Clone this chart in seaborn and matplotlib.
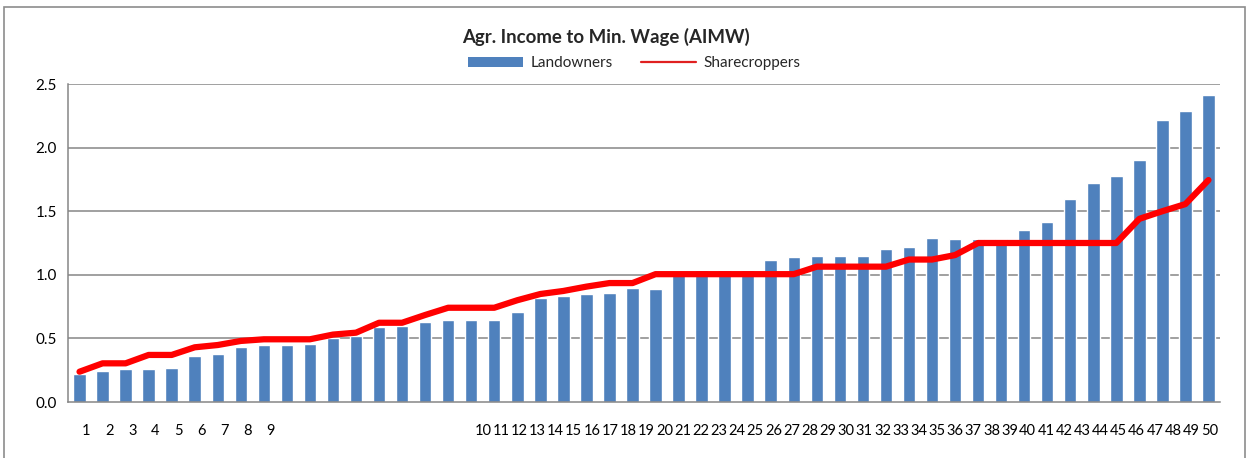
import numpy as np
import pandas as pd
import matplotlib
matplotlib.use("Agg")
import matplotlib.pyplot as plt
from matplotlib.patches import Rectangle, Patch
from matplotlib.lines import Line2D
import seaborn as sns

# ---- data ----
categories = list(range(1, 51))
landowners = [0.22, 0.246, 0.257, 0.257, 0.27, 0.364, 0.377, 0.435, 0.446, 0.448,
              0.456, 0.50, 0.519, 0.587, 0.597, 0.63, 0.645, 0.645, 0.645, 0.71,
              0.815, 0.833, 0.847, 0.854, 0.894, 0.89, 1.0, 1.038, 1.038, 1.038,
              1.116, 1.14, 1.148, 1.145, 1.15, 1.20, 1.216, 1.29, 1.28, 1.28,
              1.28, 1.35, 1.415, 1.596, 1.72, 1.78, 1.90, 2.22, 2.29, 2.41]
sharecroppers = [0.238, 0.304, 0.304, 0.37, 0.37, 0.43, 0.448, 0.48, 0.493, 0.493,
                 0.493, 0.53, 0.545, 0.623, 0.623, 0.684, 0.741, 0.741, 0.741, 0.80,
                 0.849, 0.873, 0.907, 0.935, 0.935, 1.005, 1.005, 1.005, 1.005, 1.005,
                 1.005, 1.005, 1.064, 1.064, 1.064, 1.064, 1.12, 1.12, 1.155, 1.25,
                 1.25, 1.25, 1.25, 1.25, 1.25, 1.25, 1.44, 1.50, 1.556, 1.745]
y_ticks = [0.0, 0.5, 1.0, 1.5, 2.0, 2.5]
title = "Agr. Income to Min. Wage (AIMW)"
series_names = ["Landowners", "Sharecroppers"]

sns.set_theme(style="white")
plt.rcParams['font.family'] = ['Lato', 'DejaVu Sans']

W, H, DPI = 1247, 458, 100
fig = plt.figure(figsize=(W / DPI, H / DPI), dpi=DPI)
ax = fig.add_axes([68 / W, 1 - 402 / H, (1220 - 68) / W, (402 - 84) / H])

df = pd.DataFrame({"cat": [str(c) for c in categories],
                   "land": landowners, "share": sharecroppers})
pos = np.arange(len(categories))
df["pos"] = pos

grid_c = "#868686"
for yv in y_ticks[1:]:
    ax.axhline(yv, color=grid_c, lw=1.1, zorder=0)

sns.barplot(data=df, x="cat", y="land", color="#4F81BD", saturation=1,
            width=0.54, ax=ax, zorder=2, order=df["cat"].tolist())
sns.lineplot(data=df, x="pos", y="share", color="#FF0000", lw=4.5, ax=ax,
             zorder=3, solid_capstyle="round", solid_joinstyle="round")

ax.set_xlim(-0.5, len(categories) - 0.5)
ax.set_ylim(0, 2.5)
ax.set_yticks(y_ticks)
ax.set_yticklabels([f"{v:.1f}" for v in y_ticks], fontsize=11)
ax.set_xlabel("")
ax.set_ylabel("")

# x tick labels (Excel-style odd placement)
first = np.arange(9) + 0.3
rest = np.linspace(17.51, 49.04, len(categories) - 9)
ax.set_xticks(np.concatenate([first, rest]))
ax.set_xticklabels([str(c) for c in categories], fontsize=10.5)
ax.tick_params(axis="x", length=0, pad=16, colors="black")
ax.tick_params(axis="y", length=0, pad=8, colors="black")

for s in ["top", "right"]:
    ax.spines[s].set_visible(False)
for s in ["left", "bottom"]:
    ax.spines[s].set_color(grid_c)
    ax.spines[s].set_linewidth(1.1)

fig.text(606 / W, 1 - 37 / H, title, ha="center", va="center",
         fontsize=13.4, fontweight="bold")

handles = [Patch(facecolor="#4F81BD", edgecolor="none"),
           Line2D([0], [0], color="#E02020", lw=1.6)]
fig.legend(handles, series_names, loc="center", ncol=2,
           bbox_to_anchor=(634.5 / W, 1 - 63 / H), frameon=False, fontsize=11,
           handlelength=3.6, handleheight=0.65, handletextpad=0.5,
           columnspacing=1.8, borderpad=0)

fig.patches.append(Rectangle((4 / W, -0.05), (1245 - 4) / W, 1.05 - 7 / H,
                             transform=fig.transFigure, fill=False,
                             edgecolor="#8c8c8c", lw=1.2))

fig.savefig("out.png", dpi=DPI)
